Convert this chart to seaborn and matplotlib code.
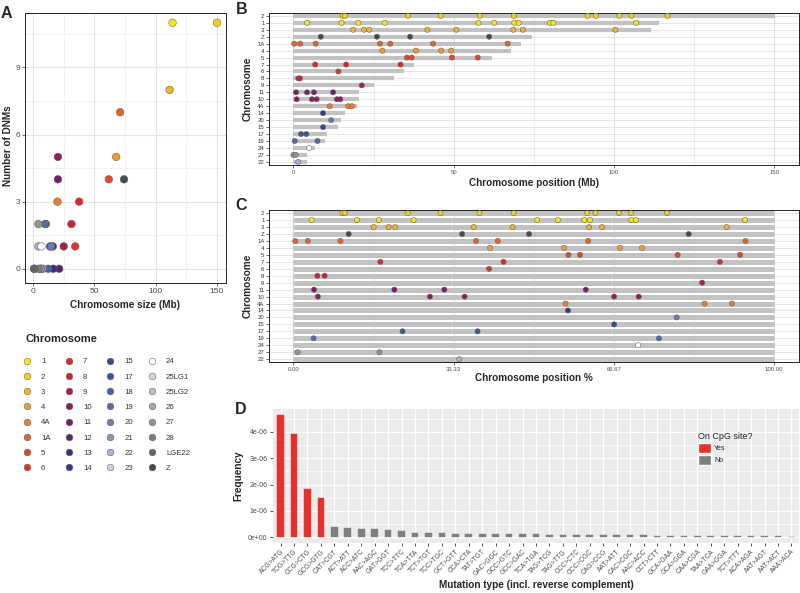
"""De novo mutation overview: counts per chromosome, positions, mutation spectrum."""

import matplotlib

matplotlib.use("Agg")
import matplotlib.pyplot as plt
import numpy as np
import pandas as pd
import seaborn as sns
from matplotlib.lines import Line2D
from matplotlib.patches import Patch
from matplotlib.ticker import FixedLocator, FuncFormatter, MultipleLocator

W, H = 800, 593

# ---- chromosome table (legend order) -------------------------------------
legend_chroms = [
    "1", "2", "3", "4", "4A", "1A", "5", "6",
    "7", "8", "9", "10", "11", "12", "13", "14",
    "15", "17", "18", "19", "20", "21", "22", "23",
    "24", "25LG1", "25LG2", "26", "27", "28", "LGE22", "Z",
]
chrom_colors = [
    "#F9E41B", "#F7CD1E", "#F4B12B", "#F09B2F", "#EA7D2E", "#E4622B", "#E1482A", "#DC3529",
    "#D52B2C", "#C82635", "#AA1F48", "#8E1D5B", "#742068", "#5A2475", "#402C80", "#2F3A8B",
    "#314996", "#3A559D", "#4661A3", "#566AA8", "#6E79B1", "#8D93C1", "#ACAFD3", "#CDD0E4",
    "#FFFFFF", "#D4D4D4", "#BEBEBE", "#A7A7A7", "#929292", "#7C7C7C", "#666666", "#4A4A4A",
]
chrom_size_mb = [
    113.9, 150.2, 111.5, 67.9, 20.0, 71.1, 61.9, 34.5,
    37.7, 31.4, 25.1, 20.4, 20.4, 21.4, 16.5, 16.2,
    13.9, 10.5, 12.5, 9.9, 14.8, 8.1, 4.4, 6.5,
    6.9, 1.0, 1.3, 6.2, 4.4, 4.7, 0.8, 74.3,
]
dnm_count = [
    11, 11, 8, 5, 3, 7, 4, 1,
    3, 2, 1, 5, 4, 0, 0, 1,
    1, 2, 0, 2, 1, 0, 1, 0,
    1, 0, 0, 0, 2, 0, 0, 4,
]

# ---- DNM positions (% of chromosome length), rows top to bottom ----------
row_order = ["2", "1", "3", "Z", "1A", "4", "5", "7", "6", "8", "9",
             "11", "10", "4A", "14", "20", "15", "17", "19", "24", "27", "22"]
dnm_pct = {
    "2": [10.2, 10.7, 23.8, 30.6, 38.7, 45.8, 61.1, 62.8, 67.7, 70.2, 77.7],
    "1": [3.8, 13.2, 17.8, 25.0, 50.7, 55.0, 60.5, 61.7, 70.3, 71.2, 93.9],
    "3": [16.7, 19.8, 21.2, 37.5, 45.6, 61.5, 64.2, 90.1],
    "Z": [11.5, 35.1, 49.0, 82.2],
    "1A": [0.4, 3.0, 9.8, 38.0, 42.5, 61.3, 94.0],
    "4": [40.9, 56.3, 67.9, 72.5],
    "5": [57.2, 59.6, 79.9, 92.9],
    "7": [18.1, 43.7, 88.7],
    "6": [40.7],
    "8": [5.0, 6.5],
    "9": [85.0],
    "11": [4.3, 21.0, 31.4, 60.8],
    "10": [5.1, 28.4, 35.6, 66.7, 71.8],
    "4A": [56.6, 85.5, 91.2],
    "14": [57.1],
    "20": [79.7],
    "15": [66.7],
    "17": [22.7, 38.3],
    "19": [4.2, 76.0],
    "24": [71.7],
    "27": [0.9, 17.9],
    "22": [34.5],
}

# ---- mutation spectrum ------------------------------------------------------
mut_types = [
    "ACG>ATG", "TCG>TTG", "CCG>CTG", "GCG>GTG", "CAT>CGT", "ACT>ATT", "ACC>ATC",
    "AAC>AGC", "GAT>GGT", "TCC>TTC", "TCA>TTA", "TCT>TGT", "TCC>TGC", "GCT>GTT",
    "CCA>CTA", "TAT>TGT", "GAC>GGC", "GCC>GTC", "GCC>GAC", "TCA>TGA", "TAG>TCG",
    "TAG>TTG", "CCC>CTC", "CCC>CGC", "CAG>CCG", "AAT>ATT", "CAC>CGC", "AAC>ACC",
    "CCT>CTT", "GCA>GAA", "GCA>GGA", "CAA>CGA", "TAA>TCA", "GAA>GGA", "TCT>TTT",
    "ACA>AGA", "AAT>AGT", "AAT>ACT", "AAA>ACA",
]
mut_freq_e6 = [
    4.63, 3.91, 1.82, 1.49, 0.39, 0.35, 0.33,
    0.30, 0.27, 0.22, 0.17, 0.16, 0.15, 0.14,
    0.13, 0.13, 0.125, 0.12, 0.12, 0.11, 0.10,
    0.10, 0.095, 0.09, 0.09, 0.085, 0.075, 0.07,
    0.065, 0.06, 0.06, 0.055, 0.055, 0.05, 0.05,
    0.045, 0.045, 0.04, 0.02,
]
mut_cpg = ["Yes"] * 4 + ["No"] * 35
cpg_colors = {"Yes": "#E5302C", "No": "#7F7F7F"}

sns.set_theme(style="white")
plt.rcParams["font.family"] = ["Liberation Sans", "DejaVu Sans"]

palette = dict(zip(legend_chroms, chrom_colors))
size_of = dict(zip(legend_chroms, chrom_size_mb))
EDGE = "#5A5A5A"
TICK_GREY = "#4D4D4D"


def box(x0, y0, x1, y1):
    return [x0 / W, 1 - y1 / H, (x1 - x0) / W, (y1 - y0) / H]


def px(x, y):
    return x / W, 1 - y / H


def style_bw(ax, tick_size):
    ax.set_facecolor("white")
    for sp in ax.spines.values():
        sp.set_visible(True)
        sp.set_color("#222222")
        sp.set_linewidth(0.7)
    ax.set_axisbelow(True)
    ax.tick_params(axis="both", which="major", length=2, width=0.5, color="#333333",
                   labelcolor=TICK_GREY, labelsize=tick_size, pad=1.5,
                   bottom=True, left=True)
    ax.tick_params(which="minor", length=0)
    ax.set_xlabel("")
    ax.set_ylabel("")


fig = plt.figure(figsize=(W / 100, H / 100), dpi=100)

# ---- A: DNMs vs chromosome size ------------------------------------------
ax_a = fig.add_axes(box(25, 12.7, 226, 283.3))
df_a = pd.DataFrame({"chrom": legend_chroms, "size": chrom_size_mb, "n": dnm_count})
sns.scatterplot(data=df_a, x="size", y="n", hue="chrom", hue_order=legend_chroms,
                palette=palette, s=30, edgecolor=EDGE, linewidth=0.35,
                legend=False, ax=ax_a, zorder=3)
style_bw(ax_a, 6)
ax_a.set_xlim(-6.5, 157.5)
ax_a.set_ylim(-0.65, 11.45)
ax_a.xaxis.set_major_locator(MultipleLocator(50))
ax_a.xaxis.set_minor_locator(MultipleLocator(25))
ax_a.yaxis.set_major_locator(MultipleLocator(3))
ax_a.yaxis.set_minor_locator(MultipleLocator(1.5))
ax_a.grid(which="major", color="#E3E3E3", lw=0.8)
ax_a.grid(which="minor", color="#EFEFEF", lw=0.5)

fig.text(*px(125.5, 305), "Chromosome size (Mb)", ha="center", va="center",
         fontsize=7.2, fontweight="bold")
fig.text(*px(8, 146), "Number of DNMs", ha="center", va="center", rotation=90,
         fontsize=7.2, fontweight="bold")

# legend for chromosome colours
fig.text(*px(25, 339.5), "Chromosome", ha="left", va="center", fontsize=8,
         fontweight="bold")
handles = [Line2D([], [], ls="", marker="o", markersize=4.8, markerfacecolor=c,
                  markeredgecolor=EDGE, markeredgewidth=0.35) for c in chrom_colors]
leg = fig.legend(handles, legend_chroms, ncol=4, loc="upper left",
                 bbox_to_anchor=px(23, 358), frameon=False, fontsize=5.6,
                 handlelength=1.0, handletextpad=1.3, columnspacing=1.9,
                 labelspacing=1.0, borderpad=0, borderaxespad=0)
for t in leg.get_texts():
    t.set_color("#333333")

# ---- B / C: DNM positions along chromosomes ------------------------------
row_idx = {c: i for i, c in enumerate(row_order)}
rows = np.arange(len(row_order))
df_pos = pd.DataFrame([(c, p) for c in row_order for p in dnm_pct[c]],
                      columns=["chrom", "pct"])
df_pos["row"] = df_pos["chrom"].map(row_idx)
df_pos["mb"] = df_pos["pct"] / 100 * df_pos["chrom"].map(size_of)


def chrom_rows(ax):
    ax.set_ylim(len(row_order) - 1 + 0.45, -0.45)
    ax.yaxis.set_major_locator(FixedLocator(rows))
    ax.set_yticklabels(row_order, fontsize=4.3, color="#333333")
    ax.grid(axis="y", which="major", color="#DCDCDC", lw=0.5)
    ax.grid(axis="x", which="major", color="#D6D6D6", lw=0.6)
    ax.grid(axis="x", which="minor", color="#E4E4E4", lw=0.45)


ax_b = fig.add_axes(box(269.3, 12.7, 799.3, 165))
ax_b.hlines(rows, 0, [size_of[c] for c in row_order], color="#C2C2C2", lw=3.0,
            capstyle="butt", zorder=2)
sns.scatterplot(data=df_pos, x="mb", y="row", hue="chrom", palette=palette, s=14,
                edgecolor=EDGE, linewidth=0.35, legend=False, ax=ax_b, zorder=3)
style_bw(ax_b, 4.3)
ax_b.set_xlim(-7.5, 157.8)
ax_b.xaxis.set_major_locator(MultipleLocator(50))
ax_b.xaxis.set_minor_locator(MultipleLocator(25))
chrom_rows(ax_b)
fig.text(*px(534, 183), "Chromosome position (Mb)", ha="center", va="center",
         fontsize=7.2, fontweight="bold")
fig.text(*px(248, 89), "Chromosome", ha="center", va="center", rotation=90,
         fontsize=7.2, fontweight="bold")

ax_c = fig.add_axes(box(269.3, 210, 799.3, 362.3))
ax_c.hlines(rows, 0, 100, color="#C2C2C2", lw=3.6, capstyle="butt", zorder=2)
sns.scatterplot(data=df_pos, x="pct", y="row", hue="chrom", palette=palette, s=14,
                edgecolor=EDGE, linewidth=0.35, legend=False, ax=ax_c, zorder=3)
style_bw(ax_c, 4.3)
ax_c.set_xlim(-5, 105.2)
ax_c.xaxis.set_major_locator(FixedLocator([0, 100 / 3, 200 / 3, 100]))
ax_c.xaxis.set_minor_locator(FixedLocator([100 / 6, 50, 500 / 6]))
ax_c.xaxis.set_major_formatter(FuncFormatter(lambda v, _: f"{v:.2f}"))
chrom_rows(ax_c)
fig.text(*px(534, 378), "Chromosome position %", ha="center", va="center",
         fontsize=7.2, fontweight="bold")
fig.text(*px(248, 286), "Chromosome", ha="center", va="center", rotation=90,
         fontsize=7.2, fontweight="bold")

# ---- D: mutation spectrum ---------------------------------------------------
ax_d = fig.add_axes(box(272.5, 409, 799.5, 543.4))
df_d = pd.DataFrame({"mut": mut_types, "freq": np.array(mut_freq_e6) * 1e-6,
                     "cpg": mut_cpg})
sns.barplot(data=df_d, x="mut", y="freq", hue="cpg", hue_order=["Yes", "No"],
            palette=cpg_colors, width=0.5, dodge=False, legend=False, ax=ax_d,
            saturation=1, edgecolor=None, linewidth=0, zorder=3)
for bar in ax_d.patches:
    bar.set_edgecolor(bar.get_facecolor())
    bar.set_linewidth(0.3)
ymax = df_d["freq"].max()
ax_d.set_xlim(-0.6, len(mut_types) - 0.4)
ax_d.set_ylim(-0.05 * ymax, 1.05 * ymax)
ax_d.set_facecolor("#EBEBEB")
for sp in ax_d.spines.values():
    sp.set_visible(False)
ax_d.set_axisbelow(True)
ax_d.yaxis.set_major_locator(MultipleLocator(1e-6))
ax_d.yaxis.set_minor_locator(MultipleLocator(0.5e-6))
ax_d.yaxis.set_major_formatter(FuncFormatter(lambda v, _: f"{v:.0e}"))
ax_d.grid(which="major", color="white", lw=0.9)
ax_d.grid(axis="y", which="minor", color="white", lw=0.45)
ax_d.tick_params(axis="both", which="major", length=2, width=0.6, color="#333333",
                 labelcolor=TICK_GREY, pad=1.5, bottom=True, left=True)
ax_d.tick_params(which="minor", length=0)
ax_d.tick_params(axis="y", labelsize=5)
ax_d.set_xticks(range(len(mut_types)))
ax_d.set_xticklabels(mut_types, rotation=45, ha="right", rotation_mode="anchor",
                     fontsize=4.8)
ax_d.set_xlabel("")
ax_d.set_ylabel("")
ax_d.legend(handles=[Patch(facecolor=cpg_colors[k], label=k) for k in ["Yes", "No"]],
            title="On CpG site?", loc="upper left", bbox_to_anchor=px(698, 432),
            bbox_transform=fig.transFigure, frameon=False, fontsize=5,
            title_fontsize=6.5, handlelength=1.8, handleheight=1.8,
            handletextpad=0.5, labelspacing=0.3, alignment="left",
            borderpad=0, borderaxespad=0)
fig.text(*px(536, 585), "Mutation type (incl. reverse complement)", ha="center",
         va="center", fontsize=7.2, fontweight="bold")
fig.text(*px(238, 476), "Frequency", ha="center", va="center", rotation=90,
         fontsize=7.2, fontweight="bold")

# ---- panel letters -----------------------------------------------------------
for letter, (x, y) in {"A": (6.7, 13.8), "B": (241.7, 9.5), "C": (241, 206),
                       "D": (240.8, 409.5)}.items():
    fig.text(*px(x, y), letter, ha="center", va="center", fontsize=11.5,
             fontweight="bold")

fig.savefig("out.png", dpi=100)
